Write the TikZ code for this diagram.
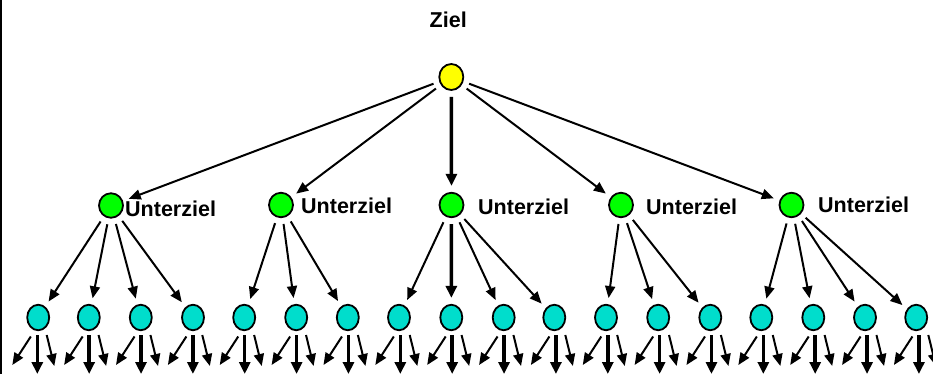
\documentclass[tikz,border=0pt]{standalone}
\usepackage{fontspec}
\setmainfont{Liberation Sans}
\usetikzlibrary{shapes.geometric,arrows.meta}
\definecolor{goalyellow}{RGB}{255,255,0}
\definecolor{subgreen}{RGB}{0,255,0}
\definecolor{leafcyan}{RGB}{0,221,204}
\begin{document}
\begin{tikzpicture}[x=1pt,y=-1pt,
  goal/.style={ellipse,draw,line width=1.8pt,fill=goalyellow,minimum width=24pt,minimum height=26pt,inner sep=0pt},
  sub/.style={ellipse,draw,line width=1.8pt,fill=subgreen,minimum width=24pt,minimum height=24.5pt,inner sep=0pt},
  leaf/.style={ellipse,draw,line width=1.8pt,fill=leafcyan,minimum width=22pt,minimum height=25.5pt,inner sep=0pt},
  lbl/.style={anchor=base west,inner sep=0pt,font=\fontsize{21.5}{24}\selectfont\bfseries},
  arr/.style={-{Triangle[length=12pt,width=10pt]},line width=2pt},
  varr/.style={-{Triangle[length=12pt,width=11pt]},line width=3.5pt},
  topgap/.style={shorten <=6pt,shorten >=6pt},
]
\useasboundingbox (0,0) rectangle (933,374);
\draw[line width=2pt] (1,0) -- (1,374);

% goal
\node[goal] (z) at (451.3,77) {};
\node[lbl] (zl) at (429.5,27.3) {Ziel};

% sub goals
\node[sub] (g1) at (111,205.5) {};
\node[sub] (g2) at (281,205) {};
\node[sub] (g3) at (451.5,205) {};
\node[sub] (g4) at (621,205) {};
\node[sub] (g5) at (791.5,205) {};
\node[lbl] (u1) at (125,216) {Unterziel};
\node[lbl] (u2) at (301,213.3) {Unterziel};
\node[lbl] (u3) at (478,214) {Unterziel};
\node[lbl] (u4) at (646,214) {Unterziel};
\node[lbl] (u5) at (818,212) {Unterziel};

% leaves
\foreach \n/\cx in {1/38.2,2/88.8,3/140.8,4/193,5/244.2,6/296.2,7/347.8,8/399,9/451.3,10/503.7,11/554.3,12/606,13/658.2,14/710.3,15/761.3,16/813.3,17/865,18/916.2}
  \node[leaf] (c\n) at (\cx,317.5) {};

% goal -> sub goals
\draw[arr,topgap] (z) -- (g1);
\draw[arr,topgap] (z) -- (g2);
\draw[varr,topgap] (z) -- (g3);
\draw[arr,topgap] (z) -- (g4);
\draw[arr,topgap] (z) -- (g5);

% sub goals -> leaves
\foreach \g/\c in {1/1,1/2,1/3,1/4,2/5,2/6,2/7,3/8,3/10,3/11,4/12,4/13,4/14,5/15,5/16,5/17,5/18}
  \draw[arr,topgap] (g\g) -- (c\c);
\draw[varr,topgap] (g3) -- (c9);

% leaves -> further (open ends)
\foreach \n/\cx [evaluate=\n as \xv using 37.3+51.86*(\n-1)] in {1/38.2,2/88.8,3/140.8,4/193,5/244.2,6/296.2,7/347.8,8/399,9/451.3,10/503.7,11/554.3,12/606,13/658.2,14/710.3,15/761.3,16/813.3,17/865,18/916.2}{
  \pgfmathsetmacro{\dx}{\xv-\cx}
  \draw[arr] (c\n.center) ++(\dx-6.5,19) -- ++(-18.5,28.5);
  \draw[varr] (c\n.center) ++(\dx,17.5) -- ++(0,39);
  \draw[arr] (c\n.center) ++(\dx+9.4,17.5) -- ++(7.6,31);
}
\end{tikzpicture}
\end{document}
